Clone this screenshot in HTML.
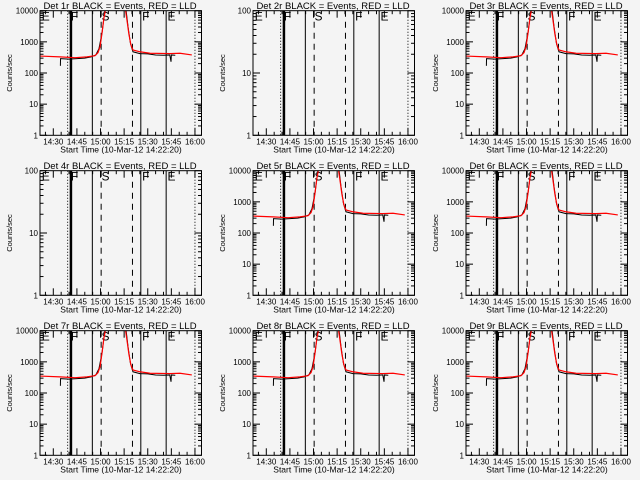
<!DOCTYPE html>
<html><head><meta charset="utf-8"><style>
html,body{margin:0;padding:0;background:#f4f4f4;}
svg{display:block;font-family:"Liberation Sans",sans-serif;}
</style></head><body>
<svg id="c" width="640" height="480" xmlns="http://www.w3.org/2000/svg"></svg>
<script>
// data: minutes since 14:00, counts/sec
const detNames = ["1r","2r","3r","4r","5r","6r","7r","8r","9r"];
const hasData = [true,false,true,false,true,true,true,true,true];
const redTimes = [21.5,34.3,43.8,51.4,56.5,58.4,59.7,61,62.2,63.5,75.6,76.8,78,79.3,80.6,85,91.4,104,110.5,118];
const redVals = [350,330,310,330,360,450,700,2000,6000,13000,13000,5000,1800,800,550,480,430,420,430,380];
const blackTimes = [34.5,34.6,40,45,50,54,57,59,61,63,76,77.5,79,80.6,85,90,95,100,104,104.8,105,107.5];
const blackVals = [170,290,280,290,300,330,380,600,2000,13000,13000,3000,900,480,420,410,380,370,380,230,380,370];
const xTickLabels = ["14:30","14:45","15:00","15:15","15:30","15:45","16:00"];
const xTickMins = [30,45,60,75,90,105,120];
const vlineMins = [39.1,41.2,54.8,60.4,80.3,85.6,101.7,120];
const vlineStyles = ["dot","thick","solid","dash","dash","solid","solid","dot"];
const modeLetters = ["E","F","S","F","E"];
const modeMins = [22,40.5,60,85.8,101.9];

const NS="http://www.w3.org/2000/svg";
const svg=document.getElementById('c');
function mk(t,a,p){const e=document.createElementNS(NS,t);for(const k in a)e.setAttribute(k,a[k]);(p||svg).appendChild(e);return e;}
const L=40,R=201.5,T=10.7,B=135.3;
function xs(m){return 53.3+(m-30)*1.574;}

for(let i=0;i<9;i++){
  const ox=(i%3)*213, oy=Math.floor(i/3)*160;
  const g=mk('g',{transform:`translate(${ox},${oy})`});
  
  
  const maxDec=hasData[i]?4:2;
  const ys=v=>B-Math.log10(v)/maxDec*(B-T);
  const cp=mk('clipPath',{id:'cp'+i},g);
  mk('rect',{x:L,y:T,width:R-L,height:B-T},cp);
  // title
  const tt=mk('text',{x:120,y:9,'font-size':'9.5','text-anchor':'middle',fill:'#000'},g);
  tt.textContent='Det '+detNames[i]+' BLACK = Events, RED = LLD';
  
  
  // vertical lines
  vlineMins.forEach((m,k)=>{
    const s=vlineStyles[k];const a={x1:xs(m),x2:xs(m),y1:T,y2:B,stroke:'#000','stroke-width':s=='thick'?2.5:1};
    if(s=='dot')a['stroke-dasharray']='1,2';
    if(s=='dash')a['stroke-dasharray']='6,5';
    const ln=mk('line',a,g);
    
    
  });
  modeLetters.forEach((c,k)=>{
    const t=mk('text',{x:xs(modeMins[k])+1,y:T+10,'font-size':'12',fill:'#000'},g);
    t.textContent=c;
    
    
  });
  if(hasData[i]){
    const bp=blackTimes.map((m,k)=>xs(m)+','+ys(blackVals[k])).join(' ');
    const bl=mk('polyline',{points:bp,fill:'none',stroke:'#000','stroke-width':1,'clip-path':`url(#cp${i})`},g);
    
    
    const rp=redTimes.map((m,k)=>xs(m)+','+ys(redVals[k])).join(' ');
    const rl=mk('polyline',{points:rp,fill:'none',stroke:'#f00','stroke-width':1.2,'clip-path':`url(#cp${i})`},g);
    
    
  }
  // frame
  const fr=mk('rect',{x:L,y:T,width:R-L,height:B-T,fill:'none',stroke:'#000','stroke-width':1},g);
  
  
  // y ticks
  for(let d=0;d<=maxDec;d++){
    const y=ys(Math.pow(10,d));
    mk('line',{x1:L,x2:L+7,y1:y,y2:y,stroke:'#000'},g);
    mk('line',{x1:R-7,x2:R,y1:y,y2:y,stroke:'#000'},g);
    const t=mk('text',{x:L-2,y:y+3,'font-size':'8','text-anchor':'end',fill:'#000'},g);
    t.textContent=String(Math.pow(10,d));
    
    
    if(d<maxDec)for(let k=2;k<10;k++){const y2=ys(k*Math.pow(10,d));
      mk('line',{x1:L,x2:L+3.5,y1:y2,y2:y2,stroke:'#000'},g);
      mk('line',{x1:R-3.5,x2:R,y1:y2,y2:y2,stroke:'#000'},g);}
  }
  // x ticks
  for(let m=25;m<=120;m+=5){const x=xs(m);const mj=xTickMins.includes(m);const h=mj?7:3.5;
    mk('line',{x1:x,x2:x,y1:B,y2:B-h,stroke:'#000'},g);
    mk('line',{x1:x,x2:x,y1:T,y2:T+h,stroke:'#000'},g);}
  xTickMins.forEach((m,k)=>{
    const t=mk('text',{x:xs(m),y:B+9,'font-size':'8','text-anchor':'middle',fill:'#000'},g);
    t.textContent=xTickLabels[k];
    
    
  });
  const xt=mk('text',{x:121,y:B+17,'font-size':'8.5','text-anchor':'middle',fill:'#000'},g);
  xt.textContent='Start Time (10-Mar-12 14:22:20)';
  
  
  const yt=mk('text',{x:0,y:0,'font-size':'7.5','text-anchor':'middle',fill:'#000',transform:`translate(12,${(T+B)/2}) rotate(-90)`},g);
  yt.textContent='Counts/sec';
  
  
}
</script>
</body></html>
